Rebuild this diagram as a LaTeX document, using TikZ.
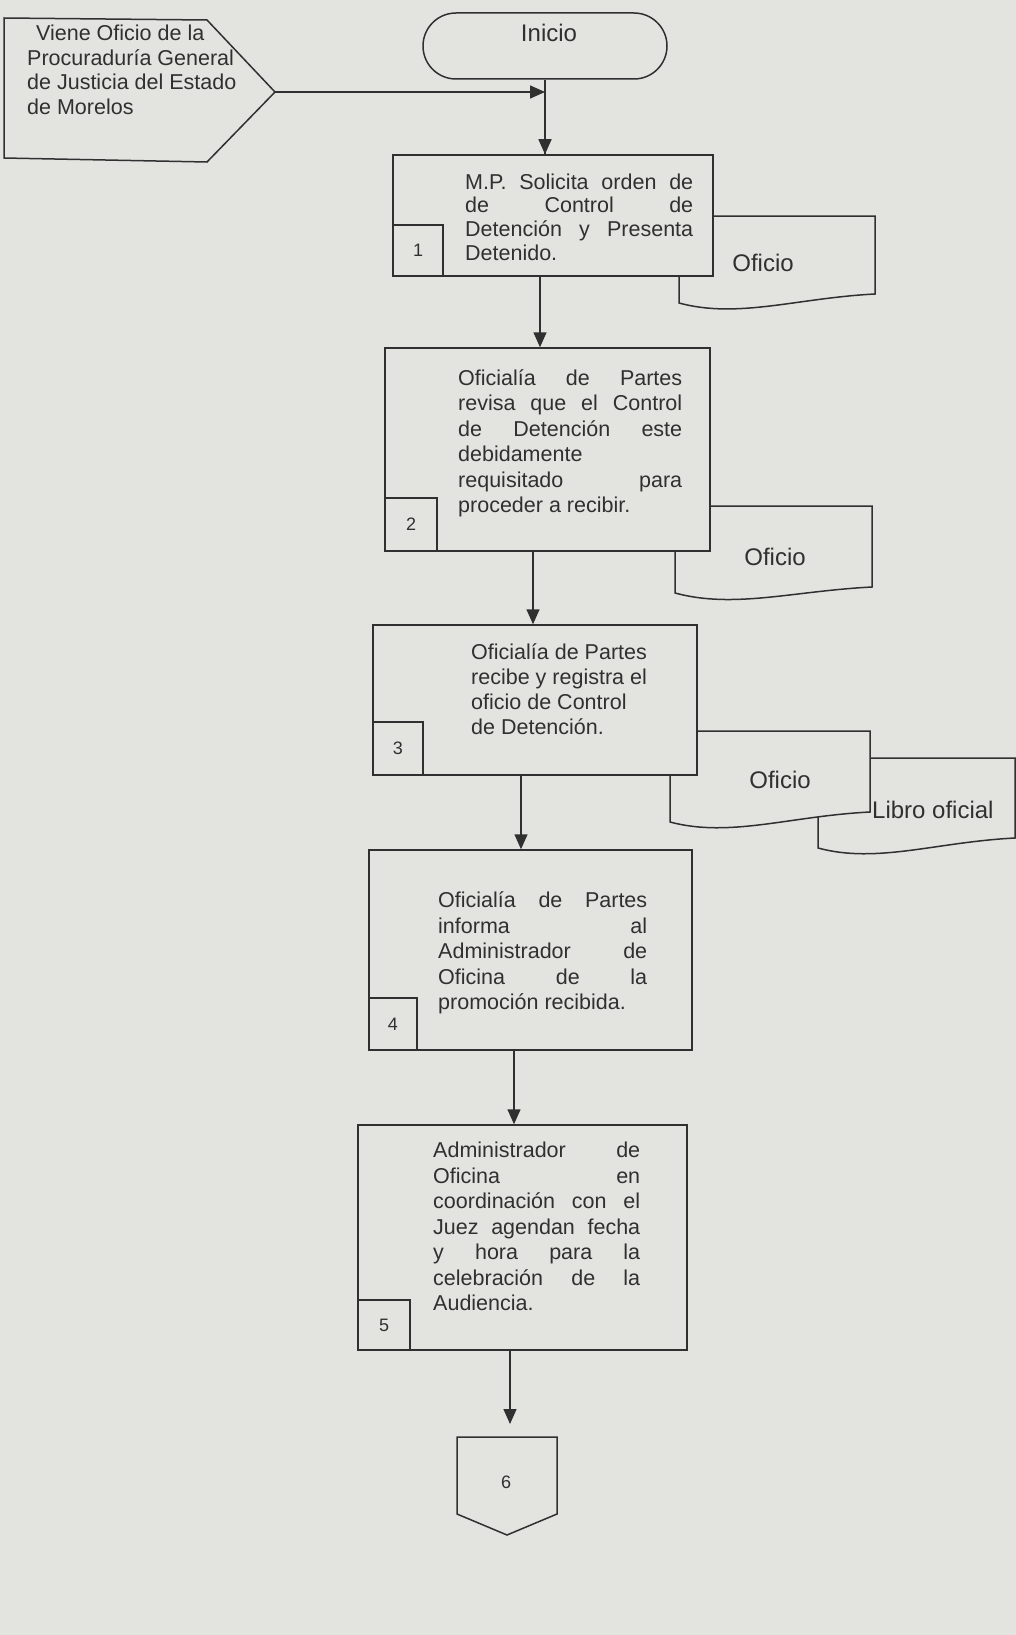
\documentclass[tikz,border=0pt]{standalone}
\usepackage{fontspec}
\setmainfont{Liberation Sans}
\usetikzlibrary{arrows.meta}
\definecolor{bg}{RGB}{227,227,224}
\definecolor{ink}{RGB}{48,48,48}
\newcommand{\jl}[1]{\makebox[\linewidth][s]{#1}}
\begin{document}
\begin{tikzpicture}[x=1pt,y=-1pt,
  line/.style={draw=ink,line width=1.5pt},
  proc/.style={line, fill=bg, rectangle, inner sep=0pt},
  numbox/.style={line, fill=bg, rectangle, inner sep=0pt, font=\fontsize{18}{20}\selectfont, text=ink},
  txt/.style={inner sep=0pt, anchor=base west, text=ink},
  lbl/.style={inner sep=0pt, text=ink, font=\fontsize{24}{28}\selectfont},
  arr/.style={draw=ink, line width=1.5pt, -{Triangle[length=15pt,width=13pt]}},
]
\fill[bg] (0,0) rectangle (1016,1635);
\useasboundingbox (0,0) rectangle (1016,1635);

% off-page entry (pentagon)
\draw[line, fill=bg] (4,18) -- (207,20) -- (275,92) -- (207,162) -- (4,158) -- cycle;
\coordinate (ptip) at (275,92);
\node[txt] (pt) at (27,41) {\parbox[t]{240pt}{\fontsize{21.5}{24.5}\selectfont\hspace*{9pt}Viene Oficio de la\\Procuraduría General\\de Justicia del Estado\\de Morelos}};

% Inicio
\node[line, fill=bg, rectangle, rounded corners=33pt, minimum width=244pt, minimum height=66pt, inner sep=0pt] (ini) at (545,46) {};
\node[lbl, anchor=base] (initxt) at (549,41.5) {Inicio};

% documents (drawn first, behind boxes)
\draw[line, fill=bg] (679,216) -- (875,216) -- (875,294) .. controls (797,298) and (738,319) .. (679,303) -- cycle;
\node[lbl, anchor=base] (d1) at (763,271.5) {Oficio};

\draw[line, fill=bg] (675,506) -- (872,506) -- (872,587) .. controls (793,591) and (734,609) .. (675,593) -- cycle;
\node[lbl, anchor=base] (d2) at (775,565.5) {Oficio};

\draw[line, fill=bg] (818,758) -- (1015,758) -- (1015,838) .. controls (936,842) and (877,864) .. (818,848) -- cycle;
\node[lbl, anchor=base west] (d4) at (872,818.5) {Libro oficial};

\draw[line, fill=bg] (670,731) -- (870,731) -- (870,812) .. controls (790,816) and (730,838) .. (670,822) -- cycle;
\node[lbl, anchor=base] (d3) at (780,788.5) {Oficio};

% process boxes
\node[proc, minimum width=320pt, minimum height=121pt] (b1) at (553,215.5) {};
\node[proc, minimum width=325pt, minimum height=203pt] (b2) at (547.5,449.5) {};
\node[proc, minimum width=324pt, minimum height=150pt] (b3) at (535,700) {};
\node[proc, minimum width=323pt, minimum height=200pt] (b4) at (530.5,950) {};
\node[proc, minimum width=329pt, minimum height=225pt] (b5) at (522.5,1237.5) {};

% number boxes
\node[numbox, minimum width=50pt, minimum height=51pt] (n1) at (418,250.5) {1};
\node[numbox, minimum width=52pt, minimum height=53pt] (n2) at (411,524.5) {2};
\node[numbox, minimum width=50pt, minimum height=53pt] (n3) at (398,748.5) {3};
\node[numbox, minimum width=48pt, minimum height=52pt] (n4) at (393,1024) {4};
\node[numbox, minimum width=52pt, minimum height=50pt] (n5) at (384,1325) {5};

% box texts
\node[txt] (t1) at (465,189.5) {\parbox[t]{228pt}{\fontsize{21.5}{23.5}\selectfont
\jl{M.P. Solicita orden de}\\\jl{de Control de}\\\jl{Detención y Presenta}\\Detenido.}};
\node[txt] (t2) at (458,385.5) {\parbox[t]{224pt}{\fontsize{21.5}{25.4}\selectfont
\jl{Oficialía de Partes}\\\jl{revisa que el Control}\\\jl{de Detención este}\\debidamente\\\jl{requisitado para}\\proceder a recibir.}};
\node[txt] (t3) at (471,659.5) {\parbox[t]{210pt}{\fontsize{21.5}{25}\selectfont
Oficialía de Partes\\recibe y registra el\\oficio de Control\\de Detención.}};
\node[txt] (t4) at (438,907.5) {\parbox[t]{209pt}{\fontsize{21.5}{25.5}\selectfont
\jl{Oficialía de Partes}\\\jl{informa al}\\\jl{Administrador de}\\\jl{Oficina de la}\\promoción recibida.}};
\node[txt] (t5) at (433,1157.5) {\parbox[t]{207pt}{\fontsize{21.5}{25.5}\selectfont
\jl{Administrador de}\\\jl{Oficina en}\\\jl{coordinación con el}\\\jl{Juez agendan fecha}\\\jl{y hora para la}\\\jl{celebración de la}\\Audiencia.}};

% off-page connector 6
\draw[line, fill=bg] (457,1437) -- (557,1437) -- (557,1514) -- (507,1535) -- (457,1514) -- cycle;
\node[inner sep=0pt, text=ink, font=\fontsize{18}{20}\selectfont] (n6) at (506,1482) {6};

% connectors
\coordinate (a12) at (540,0);
\coordinate (a23) at (533,0);
\coordinate (a34) at (521,0);
\coordinate (a45) at (514,0);
\coordinate (e5) at (510,1424);
\draw[line] (ini.south) -- (ini.south |- b1.north);
\draw[arr] (ini.south |- 0,120) -- (ini.south |- b1.north);
\draw[arr] (ptip) -- (ptip -| ini.south);
\draw[arr] (b1.south -| a12) -- (b2.north -| a12);
\draw[arr] (b2.south -| a23) -- (b3.north -| a23);
\draw[arr] (b3.south -| a34) -- (b4.north -| a34);
\draw[arr] (b4.south -| a45) -- (b5.north -| a45);
\draw[arr] (b5.south -| e5) -- (e5);
\end{tikzpicture}
\end{document}
